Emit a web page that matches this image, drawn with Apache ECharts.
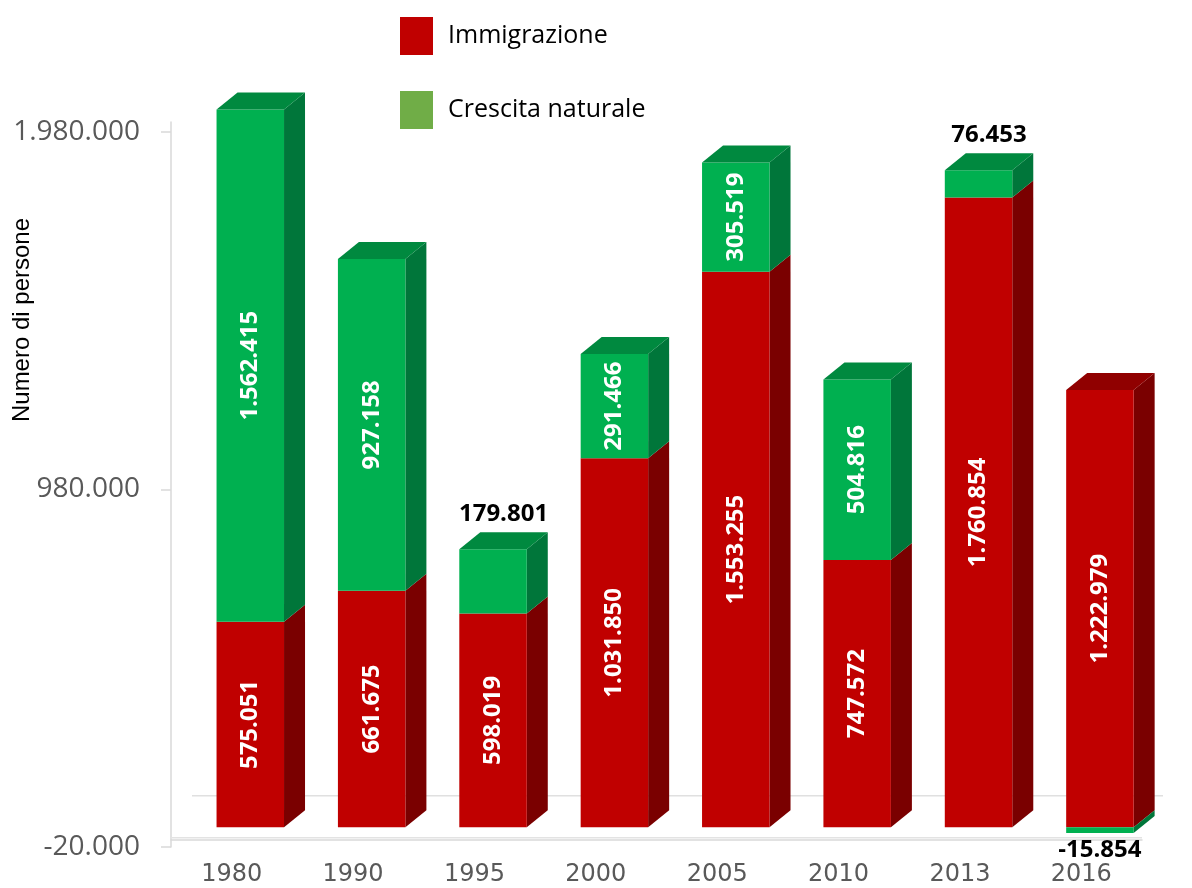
<!DOCTYPE html>
<html>
<head>
<meta charset="utf-8">
<title>Immigrazione e crescita naturale</title>
<script src="https://cdn.jsdelivr.net/npm/echarts@6/dist/echarts.min.js"></script>
<style>
  html, body { margin: 0; padding: 0; background: #ffffff; }
  #chart { width: 1192px; height: 888px; }
</style>
</head>
<body>
<div id="chart"></div>
<script>
// Anni
const years = ['1980', '1990', '1995', '2000', '2005', '2010', '2013', '2016'];
// Saldo migratorio per periodo
const immigrazione = [575051, 661675, 598019, 1031850, 1553255, 747572, 1760854, 1222979];
// Saldo naturale per periodo
const crescitaNaturale = [1562415, 927158, 179801, 291466, 305519, 504816, 76453, -15854];
// Valori mostrati sull'asse verticale
const yTicks = [-20000, 980000, 1980000];
const Y_MIN = -20000;
const Y_MAX = 2007000;

// Pseudo-3D geometry of the columns (pixels)
const SHIFT_X = 18.6, SHIFT_Y = -12.5;   // front plane offset from the axis plane
const DEPTH_X = 21, DEPTH_Y = -17;       // column depth
const BAR_RATIO = 0.556;                  // front face width / category band

const LABEL_FONT = 'bold 24px "Open Sans"';
const measureCtx = document.createElement('canvas').getContext('2d');
function textWidth(t) { measureCtx.font = LABEL_FONT; return measureCtx.measureText(t).width; }

// Italian number format: 1.234.567
function fmt(v) {
  const s = Math.abs(Math.round(v)).toString().replace(/\B(?=(\d{3})+(?!\d))/g, '.');
  return (v < 0 ? '-' : '') + s;
}

// Stacked segments: [categoryIndex, low, high, value, isTopSegment]
const redData = [], greenData = [];
years.forEach(function (y, i) {
  const imm = immigrazione[i], nat = crescitaNaturale[i];
  redData.push([i, 0, imm, imm, nat < 0 ? 1 : 0]);
  if (nat >= 0) greenData.push([i, imm, imm + nat, nat, 1]);
  else greenData.push([i, nat, 0, nat, 0]);
});

function makeRender(front, side, top) {
  return function (params, api) {
    const i = api.value(0);
    const lo = api.value(1);
    const hi = Math.min(api.value(2), Y_MAX);
    const val = api.value(3);
    const isTop = api.value(4) === 1;
    const band = api.size([1, 0])[0];
    const w = band * BAR_RATIO;
    const pLo = api.coord([i, lo]);
    const pHi = api.coord([i, hi]);
    const x0 = pLo[0] + SHIFT_X - w / 2, x1 = x0 + w;
    const yB = pLo[1] + SHIFT_Y, yT = pHi[1] + SHIFT_Y;
    const children = [];
    children.push({
      type: 'polygon',
      shape: { points: [[x1, yB], [x1 + DEPTH_X, yB + DEPTH_Y], [x1 + DEPTH_X, yT + DEPTH_Y], [x1, yT]] },
      style: { fill: side }
    });
    children.push({
      type: 'rect',
      shape: { x: x0, y: yT, width: w, height: yB - yT },
      style: { fill: front }
    });
    if (isTop) {
      children.push({
        type: 'polygon',
        shape: { points: [[x0, yT], [x0 + DEPTH_X, yT + DEPTH_Y], [x1 + DEPTH_X, yT + DEPTH_Y], [x1, yT]] },
        style: { fill: top }
      });
    }
    const txt = fmt(val);
    const h = yB - yT;
    if (h > textWidth(txt) + 10) {
      children.push({
        type: 'text',
        x: (x0 + x1) / 2, y: (yT + yB) / 2,
        rotation: Math.PI / 2,
        style: { x: 0, y: 0, text: txt, fill: '#ffffff', font: LABEL_FONT, align: 'center', verticalAlign: 'middle' }
      });
    } else if (val >= 0) {
      children.push({
        type: 'text',
        x: (x0 + x1) / 2 + DEPTH_X / 2, y: yT + DEPTH_Y - 18,
        style: { x: 0, y: 0, text: txt, fill: '#000000', font: LABEL_FONT, align: 'center', verticalAlign: 'middle' }
      });
    } else {
      children.push({
        type: 'text',
        x: (x0 + x1) / 2, y: yB + 17,
        style: { x: 0, y: 0, text: txt, fill: '#000000', font: LABEL_FONT, align: 'center', verticalAlign: 'middle' }
      });
    }
    return { type: 'group', children: children };
  };
}

// Floor edges of the 3D plot area
function renderFloor(params, api) {
  const cs = params.coordSys;
  const y0 = api.coord([0, 0])[1] - 2;
  return {
    type: 'group',
    children: [
      { type: 'line', shape: { x1: cs.x, y1: y0, x2: cs.x + cs.width, y2: y0 },
        style: { stroke: '#e3e3e3', lineWidth: 1.5 } },
      { type: 'line', shape: { x1: cs.x + DEPTH_X, y1: y0 - 42, x2: cs.x + cs.width + DEPTH_X, y2: y0 - 42 },
        style: { stroke: '#e0e0e0', lineWidth: 1.5 } }
    ]
  };
}

const chart = echarts.init(document.getElementById('chart'), null, { renderer: 'canvas' });
chart.setOption({
  animation: false,
  backgroundColor: '#ffffff',
  grid: { left: 171, right: 50, top: 122, bottom: 41, containLabel: false },
  legend: {
    orient: 'vertical',
    left: 395, top: 12,
    icon: 'rect',
    itemWidth: 33, itemHeight: 38, itemGap: 36,
    data: ['Immigrazione', 'Crescita naturale'],
    textStyle: { fontFamily: 'Open Sans', fontSize: 25, color: '#000000', padding: [0, 0, 0, 10] }
  },
  graphic: [{
    type: 'text',
    x: 22, y: 320,
    rotation: Math.PI / 2,
    style: { x: 0, y: 0, text: 'Numero di persone', font: '24px "Liberation Sans"', fill: '#000000', align: 'center', verticalAlign: 'middle' }
  }],
  xAxis: {
    type: 'category',
    data: years,
    axisLine: { show: true, lineStyle: { color: '#d9d9d9', width: 1.5 } },
    axisTick: { show: false },
    axisLabel: { fontFamily: 'DejaVu Sans', fontSize: 24, color: '#595959', margin: 16 },
    splitLine: { show: false }
  },
  yAxis: {
    type: 'value',
    min: Y_MIN, max: Y_MAX, interval: 1000000,
    axisLine: { show: true, lineStyle: { color: '#d9d9d9', width: 1.5 } },
    axisTick: { show: true, length: 10, lineStyle: { color: '#d9d9d9', width: 1.5 }, customValues: yTicks },
    axisLabel: { fontFamily: 'Open Sans', fontSize: 28, color: '#595959', margin: 31,
      customValues: yTicks, formatter: fmt },
    splitLine: { show: false }
  },
  series: [
    { name: 'floor', type: 'custom', renderItem: renderFloor, data: [[0, 0]], silent: true, z: 1, clip: false },
    { name: 'Immigrazione', type: 'custom', renderItem: makeRender('#c00000', '#7a0000', '#900000'),
      itemStyle: { color: '#c00000' }, data: redData, clip: false, z: 2,
      encode: { x: 0, y: [1, 2] } },
    { name: 'Crescita naturale', type: 'custom', renderItem: makeRender('#00b050', '#00763a', '#00893f'),
      itemStyle: { color: '#70ad47' }, data: greenData, clip: false, z: 3,
      encode: { x: 0, y: [1, 2] } }
  ]
});
</script>
</body>
</html>
